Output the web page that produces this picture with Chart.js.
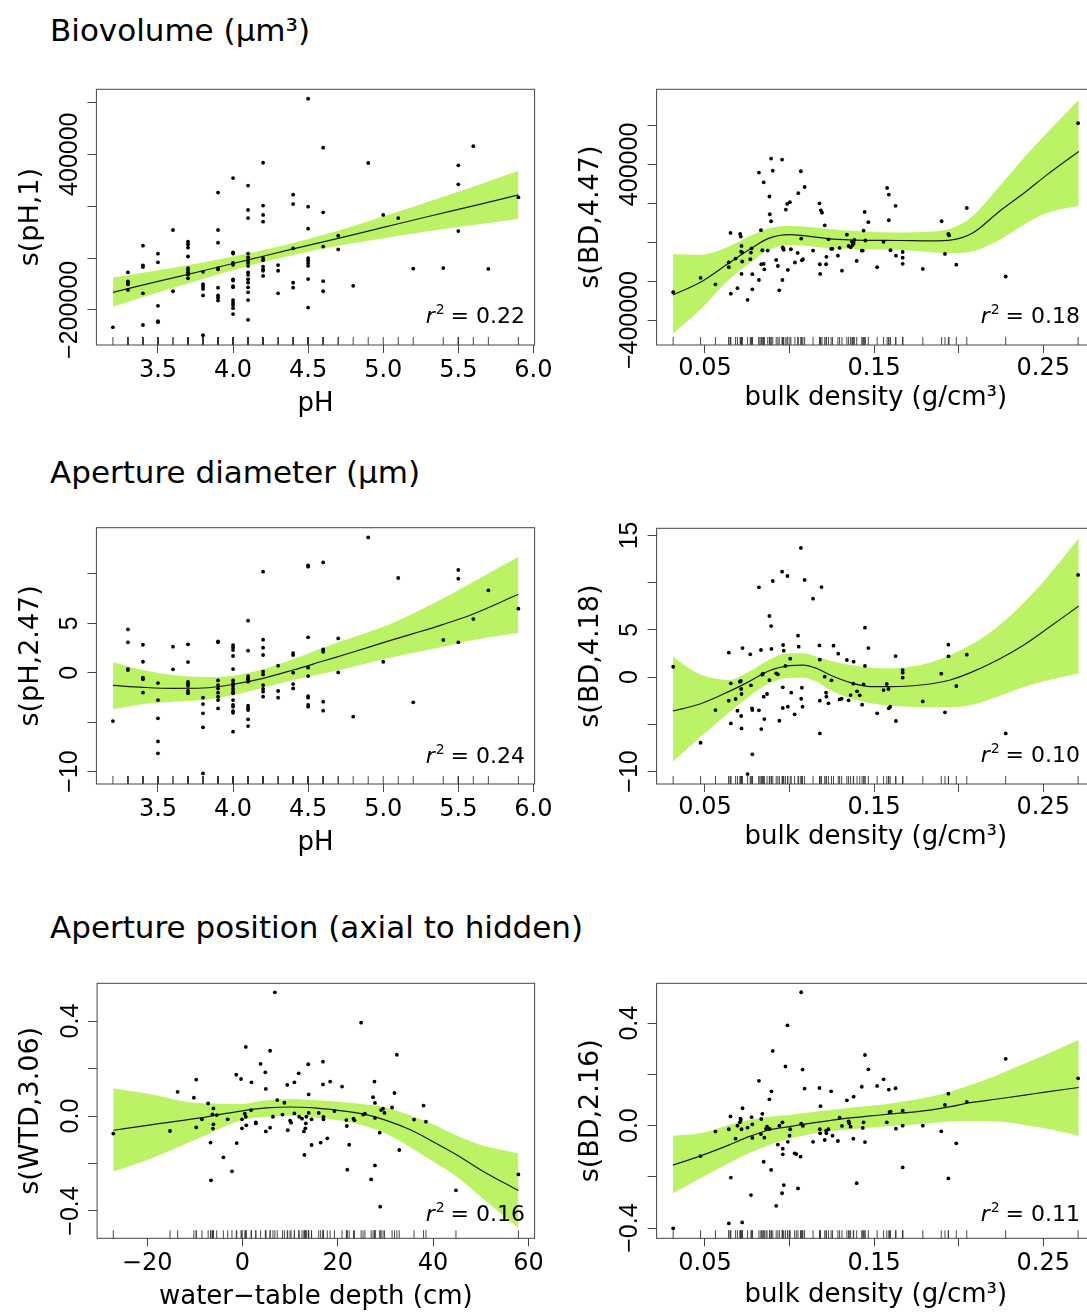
<!DOCTYPE html>
<html>
<head>
<meta charset="utf-8">
<script src="https://cdn.jsdelivr.net/npm/chart.js@4.4.1/dist/chart.umd.min.js"></script>
<style>
  html, body { margin: 0; padding: 0; background: #fff; }
  body { width: 1087px; height: 1314px; overflow: hidden; position: relative; }
  .section-title {
    position: absolute; left: 50px;
    font-family: 'DejaVu Sans', sans-serif; font-size: 31px; line-height: 31px;
    color: #000; white-space: nowrap;
  }
  canvas { position: absolute; }
</style>
</head>
<body>
<div class="section-title" style="top:15px">Biovolume (µm³)</div>
<div class="section-title" style="top:457px">Aperture diameter (µm)</div>
<div class="section-title" style="top:912px">Aperture position (axial to hidden)</div>

<script>
// ---------- axis ticks ----------
const phTicks = [3.5, 4.0, 4.5, 5.0, 5.5, 6.0];
const phTickLabels = ['3.5', '4.0', '4.5', '5.0', '5.5', '6.0'];
const bdTicks = [0.05, 0.10, 0.15, 0.20, 0.25];
const bdTickLabels = ['0.05', '', '0.15', '', '0.25'];
const wtdTicks = [-20, 0, 20, 40, 60];
const wtdTickLabels = ['\u221220', '0', '20', '40', '60'];

// ---------- Biovolume ~ pH ----------
const volPhX = [
  3.2,
  3.3, 3.3, 3.3, 3.3, 3.3,
  3.4, 3.4, 3.4, 3.4, 3.4,
  3.5, 3.5, 3.5, 3.5, 3.5,
  3.6, 3.6,
  3.7, 3.7, 3.7, 3.7, 3.7, 3.7, 3.7, 3.7, 3.7,
  3.8, 3.8, 3.8, 3.8, 3.8, 3.8,
  3.9, 3.9, 3.9, 3.9, 3.9, 3.9, 3.9, 3.9, 3.9,
  4.0, 4.0, 4.0, 4.0, 4.0, 4.0, 4.0, 4.0, 4.0, 4.0, 4.0, 4.0, 4.0, 4.0,
  4.1, 4.1, 4.1, 4.1, 4.1, 4.1, 4.1, 4.1, 4.1, 4.1, 4.1, 4.1, 4.1, 4.1, 4.1, 4.1,
  4.2, 4.2, 4.2, 4.2, 4.2, 4.2, 4.2, 4.2, 4.2, 4.2,
  4.3, 4.3, 4.3,
  4.4, 4.4, 4.4, 4.4, 4.4,
  4.5, 4.5, 4.5, 4.5, 4.5, 4.5, 4.5, 4.5, 4.5,
  4.6, 4.6, 4.6, 4.6, 4.6,
  4.7, 4.7,
  4.8, 4.9, 5.0, 5.1, 5.2, 5.4,
  5.5, 5.5, 5.5,
  5.6, 5.7, 5.9
];
const volPhY = [
  -267000,
  -55000, -90000, -96000, -101000, -123000,
  47500, -28000, -35000, -136000, -258000,
  16700, -16700, -184000, -243000, -247000,
  108000, -128000,
  63000, 53000, 40000, 6000, -38500, -46000, -55000, -64000, -78000,
  -53000, -101000, -110000, -119000, -144000, -297000,
  252000, 108000, 59000, -38500, -44000, -114000, -144000, -153000, -164000,
  308000, 22000, 17000, -19000, -26000, -82000, -87000, -108000, -113000, -162000, -172000, -181000, -193000, -216000,
  279000, 185000, 154000, 17000, 2600, -10000, -19000, -31000, -55000, -65000, -82000, -95000, -113000, -132000, -162000, -238000,
  367000, 202000, 166000, 140000, 0, -9000, -33000, -44000, -49000, -69000,
  -27000, -49000, -136000,
  244000, 208000, 37000, -95000, -114000,
  614000, 198000, 113000, 0, -9000, -19000, -30000, -81000, -191000,
  425000, 176000, 44000, -89000, -128000,
  86000, 33000,
  -107000, 366000, 166000, 154000, -41000, -38500,
  357000, 284000, 104000,
  431000, -42000, 234000
];
const volPhGrid = [3.2, 3.5, 3.8, 4.1, 4.4, 4.7, 5.0, 5.3, 5.6, 5.9];
const volPhFit = [-132000, -90000, -49000, -7000, 35000, 76000, 118000, 160000, 201000, 243000];
const volPhUpper = [-76000, -47000, -17000, 17000, 58000, 105000, 160000, 217000, 275000, 336000];
const volPhLower = [-188000, -133000, -81000, -31000, 12000, 47000, 76000, 103000, 127000, 150000];

// ---------- Biovolume ~ bulk density ----------
const volBdX = [
  0.0312, 0.0474, 0.0562, 0.0641, 0.0641, 0.0651, 0.0653, 0.0681, 0.0692, 0.0708,
  0.0712, 0.0714, 0.0716, 0.0716, 0.0720, 0.0720, 0.0752, 0.0768, 0.0772, 0.0776,
  0.0780, 0.0780, 0.0819, 0.0819, 0.0831, 0.0833, 0.0839, 0.0847, 0.0847, 0.0851,
  0.0871, 0.0881, 0.0883, 0.0891, 0.0891, 0.0901, 0.0921, 0.0931, 0.0939, 0.0956,
  0.0958, 0.0960, 0.0962, 0.0966, 0.0978, 0.0986, 0.0990, 0.1002, 0.1008, 0.1032,
  0.1048, 0.1052, 0.1067, 0.1069, 0.1073, 0.1079, 0.1089, 0.1139, 0.1177, 0.1179,
  0.1181, 0.1185, 0.1192, 0.1208, 0.1216, 0.1218, 0.1230, 0.1246, 0.1254, 0.1286,
  0.1296, 0.1310, 0.1339, 0.1349, 0.1361, 0.1369, 0.1373, 0.1379, 0.1383, 0.1397,
  0.1427, 0.1433, 0.1438, 0.1444, 0.1448, 0.1466, 0.1518, 0.1556, 0.1577, 0.1587,
  0.1587, 0.1597, 0.1627, 0.1629, 0.1669, 0.1669, 0.1669, 0.1788, 0.1899, 0.1919,
  0.1939, 0.1943, 0.1986, 0.2048, 0.2278, 0.2706
];
const volBdY = [
  -257000, -183000, -216000, -103000, -128000, 48000, -264000, -84000, -236000, 43000,
  29000, -48000, -19000, -163000, -99000, -53000, -296000, -87000, -53000, -31000,
  -164000, -242000, 358000, -194000, 62000, -113000, -41000, 308000, -111000, -139000,
  -43000, 235000, 144000, 430000, 108000, 368000, -91000, -122000, -247000, 425000,
  -194000, -26000, -33000, -39000, 168000, 197000, -142000, 206000, -36000, -104000,
  -55000, 252000, 365000, 19000, -93000, -87000, 284000, -43000, 200000, -113000,
  -163000, 164000, 152000, 87000, -113000, -75000, 15000, -34000, -34000, -69000,
  -29000, -146000, 39000, -19000, -26000, 3000, -14000, -5000, 12000, -96000,
  -43000, -43000, 60000, 156000, 9000, 103000, -128000, 2000, 279000, 245000,
  113000, -41000, 187000, -69000, -50000, -79000, -111000, -137000, 108000, -60000,
  43000, 36000, -115000, 176000, -176000, 612000
];
const volBdGrid = [0.031, 0.047, 0.064, 0.076, 0.088, 0.100, 0.108, 0.124, 0.144, 0.164, 0.184, 0.196, 0.208, 0.224, 0.240, 0.252, 0.271];
const volBdFit = [-271000, -207000, -108000, -39000, 21000, 39000, 34000, 17000, 10000, 9000, 7000, 12000, 46000, 158000, 262000, 345000, 466000];
const volBdUpper = [-62000, -65000, -22000, 29000, 72000, 84000, 81000, 67000, 55000, 50000, 55000, 72000, 132000, 286000, 449000, 560000, 731000];
const volBdLower = [-471000, -348000, -194000, -111000, -39000, -14000, -17000, -31000, -36000, -39000, -51000, -57000, -48000, 12000, 98000, 150000, 187000];

// ---------- Aperture diameter ~ pH ----------
const diamPhX = [
  3.2,
  3.3, 3.3, 3.3, 3.3,
  3.4, 3.4, 3.4, 3.4, 3.4,
  3.5, 3.5, 3.5, 3.5, 3.5,
  3.6, 3.6,
  3.7, 3.7, 3.7, 3.7, 3.7, 3.7, 3.7,
  3.8, 3.8, 3.8, 3.8, 3.8,
  3.9, 3.9, 3.9, 3.9, 3.9, 3.9, 3.9, 3.9, 3.9,
  4.0, 4.0, 4.0, 4.0, 4.0, 4.0, 4.0, 4.0, 4.0, 4.0, 4.0, 4.0, 4.0, 4.0, 4.0, 4.0, 4.0,
  4.1, 4.1, 4.1, 4.1, 4.1, 4.1, 4.1, 4.1, 4.1, 4.1, 4.1,
  4.2, 4.2, 4.2, 4.2, 4.2, 4.2, 4.2, 4.2, 4.2, 4.2,
  4.3, 4.3, 4.3,
  4.4, 4.4, 4.4, 4.4, 4.4,
  4.5, 4.5, 4.5, 4.5, 4.5, 4.5, 4.5, 4.5, 4.5,
  4.6, 4.6, 4.6, 4.6, 4.6,
  4.7, 4.7,
  4.8, 4.9, 5.0, 5.1, 5.2, 5.4,
  5.5, 5.5, 5.5,
  5.6, 5.7, 5.9
];
const diamPhY = [
  -4.89,
  4.38, 3.07, 0.37, 0.27,
  2.83, 1.11, -0.51, -0.67, -2.02,
  -1.05, -2.77, -4.62, -6.95, -8.16,
  2.63, 0.34,
  2.87, 1.08, -0.94, -1.11, -1.32, -1.85, -2.09,
  -2.53, -3.17, -4.11, -5.53, -10.19,
  3.17, 3.07, -0.78, -1.25, -1.59, -2.02, -2.43, -2.77, -3.61,
  2.80, 2.56, 2.29, 1.69, 0.37, -0.78, -1.08, -1.35, -1.65, -1.92, -2.09, -2.77, -3.27, -3.44, -3.88, -4.05, -5.97,
  5.26, 2.23, -0.34, -0.57, -0.74, -0.91, -3.34, -3.61, -3.78, -4.72, -5.40,
  10.22, 3.34, 2.53, 1.79, 0.10, -0.17, -1.25, -1.65, -1.92, -2.43,
  0.71, -1.85, -2.53,
  1.99, 1.79, 0.00, -1.15, -1.59,
  10.86, 10.73, 3.58, 0.51, -0.34, -2.36, -2.53, -3.27, -3.44,
  11.16, 2.36, 2.12, -2.93, -3.84,
  3.47, 0.03,
  -4.45, 13.69, 1.11, 9.58, -3.00, 3.31,
  10.39, 9.51, 3.07,
  5.43, 8.33, 6.48
];
const diamPhGrid = [3.2, 3.4, 3.6, 3.8, 4.0, 4.2, 4.4, 4.6, 4.8, 5.0, 5.2, 5.4, 5.6, 5.9];
const diamPhFit = [-1.28, -1.48, -1.59, -1.55, -1.18, -0.57, 0.27, 1.18, 2.09, 3.04, 3.95, 4.89, 5.94, 7.93];
const diamPhUpper = [1.05, 0.27, -0.24, -0.44, -0.30, 0.34, 1.35, 2.53, 3.58, 4.65, 6.00, 7.52, 9.21, 11.74];
const diamPhLower = [-3.71, -3.17, -2.93, -2.77, -2.26, -1.52, -0.74, -0.07, 0.61, 1.35, 2.02, 2.63, 3.31, 4.05];

// ---------- Aperture diameter ~ bulk density ----------
const diamBdX = [
  0.0312, 0.0474, 0.0562, 0.0641, 0.0641, 0.0653, 0.0653, 0.0681, 0.0692, 0.0706,
  0.0712, 0.0714, 0.0716, 0.0714, 0.0716, 0.0722, 0.0768, 0.0772, 0.0778, 0.0780,
  0.0780, 0.0752, 0.0819, 0.0819, 0.0831, 0.0833, 0.0839, 0.0843, 0.0847, 0.0851,
  0.0867, 0.0881, 0.0881, 0.0891, 0.0893, 0.0901, 0.0921, 0.0931, 0.0940, 0.0956,
  0.0960, 0.0960, 0.0962, 0.0966, 0.0976, 0.0988, 0.0990, 0.1004, 0.1010, 0.1030,
  0.1050, 0.1054, 0.1067, 0.1069, 0.1073, 0.1077, 0.1089, 0.1139, 0.1177, 0.1179,
  0.1179, 0.1179, 0.1189, 0.1208, 0.1216, 0.1218, 0.1230, 0.1248, 0.1260, 0.1288,
  0.1296, 0.1308, 0.1339, 0.1349, 0.1361, 0.1377, 0.1379, 0.1399, 0.1415, 0.1429,
  0.1438, 0.1446, 0.1446, 0.1466, 0.1518, 0.1556, 0.1575, 0.1585, 0.1587, 0.1595,
  0.1627, 0.1629, 0.1669, 0.1669, 0.1669, 0.1788, 0.1897, 0.1919, 0.1939, 0.1940,
  0.1986, 0.2048, 0.2278, 0.2706
];
const diamBdY = [
  1.09, -6.96, -3.50, 2.58, -2.51, -0.67, -4.91, -2.33, -3.57, -0.49,
  -0.42, -1.27, -1.80, -4.13, -5.44, 3.07, 2.40, -0.88, -3.32, -3.50,
  -8.19, -10.28, 9.50, -3.53, 2.86, -5.51, 0.25, 0.35, -2.08, -4.45,
  -1.80, -0.32, 6.46, 5.40, 2.97, 10.17, 0.39, 0.28, -4.63, 11.16,
  -1.09, -3.28, 3.39, 2.79, 1.17, 10.70, -3.14, 1.94, -1.66, -3.95,
  4.38, 3.21, 13.67, -2.30, -1.13, -3.14, 10.28, 8.30, 3.35, 1.84,
  -2.51, -5.97, 9.53, 0.04, -1.66, -2.08, -2.79, -0.35, 3.32, 2.47,
  -2.37, -2.30, 1.80, -2.47, -1.91, -0.71, 1.62, -1.52, -1.94, -2.93,
  -0.78, 5.23, 1.17, 3.07, -3.85, -1.38, -0.74, -1.27, -3.32, -3.14,
  2.22, -4.66, 0.74, 0.46, -0.07, -2.58, 0.35, -3.74, 3.43, 2.19,
  -0.95, 2.37, -5.97, 10.81
];
const diamBdGrid = [0.031, 0.047, 0.064, 0.076, 0.088, 0.100, 0.108, 0.116, 0.124, 0.136, 0.148, 0.160, 0.171, 0.183, 0.195, 0.207, 0.223, 0.239, 0.251, 0.271];
const diamBdFit = [-3.60, -2.86, -1.55, -0.49, 0.67, 1.20, 1.27, 0.92, 0.21, -0.60, -1.02, -1.02, -0.95, -0.74, -0.32, 0.46, 1.80, 3.45, 4.95, 7.52];
const diamBdUpper = [2.15, 0.28, -0.32, 0.56, 1.84, 2.51, 2.51, 2.15, 1.73, 1.27, 0.99, 0.92, 1.09, 1.52, 2.33, 3.39, 5.33, 7.98, 10.28, 14.69];
const diamBdLower = [-8.97, -6.39, -3.78, -2.08, -0.67, -0.07, -0.07, -0.49, -1.38, -2.26, -2.79, -3.04, -3.14, -3.21, -3.21, -2.97, -2.08, -1.02, -0.42, 0.39];

// ---------- Aperture position ~ water-table depth ----------
const posWtdX = [
  -27.1, -15.2, -13.6, -10.2, -9.7, -9.7, -8.5, -7.2, -6.7, -6.6,
  -6.3, -6.2, -6.1, -6.1, -5.4, -4.0, -3.1, -2.2, -1.3, -1.2,
  -0.3, -0.1, -0.1, 0.5, 0.7, 0.7, 0.8, 1.8, 1.9, 2.8,
  2.8, 3.8, 4.8, 4.9, 4.9, 5.8, 5.8, 6.4, 6.8, 7.3, 8.4,
  8.8, 9.4, 9.5, 10.0, 10.2, 10.9, 10.9, 11.8, 11.9, 12.5,
  12.9, 13.0, 13.2, 13.3, 13.4, 13.8, 13.9, 13.9, 14.5, 14.5,
  16.0, 16.4, 16.9, 16.9, 17.0, 17.0, 17.8, 18.4, 19.3, 20.9,
  21.8, 21.9, 22.0, 22.4, 23.3, 23.5, 24.9, 25.3, 25.7, 27.0,
  27.4, 27.7, 27.8, 27.8, 27.8, 28.8, 28.9, 29.1, 29.5, 29.8,
  31.4, 31.9, 32.4, 32.9, 36.0, 38.0, 38.5, 44.8, 57.9
];
const posWtdY = [
  -0.074, -0.063, 0.102, 0.077, -0.048, 0.153, -0.014, 0.053, -0.112, -0.271,
  0.007, -0.053, 0.032, -0.035, 0.004, -0.174, -0.014, -0.233, 0.174, -0.114,
  0.156, -0.014, -0.052, 0.010, 0.291, -0.003, -0.039, 0.025, 0.142, -0.027,
  -0.031, 0.220, 0.184, 0.114, -0.065, -0.049, 0.275, -0.003, 0.521, 0.067, 0.006,
  0.056, 0.131, -0.060, -0.020, -0.028, 0.142, 0.011, 0.180, -0.003, -0.011,
  -0.065, -0.164, -0.052, -0.031, -0.003, 0.218, 0.091, 0.013, -0.122, -0.014,
  0.013, -0.112, 0.229, 0.133, -0.004, -0.014, -0.094, 0.145, 0.021, 0.124,
  -0.017, -0.042, -0.226, -0.121, -0.011, -0.018, 0.393, 0.006, 0.010, -0.267,
  0.079, 0.145, 0.055, -0.008, -0.208, -0.070, -0.382, 0.025, 0.031, 0.013,
  0.036, 0.097, 0.258, -0.143, -0.015, 0.044, -0.024, -0.313, -0.246
];
const posWtdGrid = [-27.1, -20, -10, 0, 5, 10, 15, 20, 25, 30, 35, 40, 45, 50, 57.9];
const posWtdFit = [-0.060, -0.039, -0.011, 0.022, 0.034, 0.038, 0.034, 0.024, 0.010, -0.017, -0.056, -0.108, -0.164, -0.227, -0.314];
const posWtdUpper = [0.116, 0.095, 0.056, 0.051, 0.066, 0.072, 0.067, 0.060, 0.051, 0.036, 0.004, -0.035, -0.083, -0.122, -0.157];
const posWtdLower = [-0.234, -0.185, -0.101, -0.017, -0.003, 0.001, -0.006, -0.017, -0.038, -0.073, -0.129, -0.192, -0.256, -0.340, -0.473];

// ---------- Aperture position ~ bulk density ----------
const posBdX = [
  0.0312, 0.0474, 0.0562, 0.0641, 0.0641, 0.0651, 0.0653, 0.0681, 0.0692, 0.0706,
  0.0710, 0.0712, 0.0716, 0.0720, 0.0722, 0.0752, 0.0772, 0.0776, 0.0780, 0.0780,
  0.0819, 0.0831, 0.0833, 0.0839, 0.0847, 0.0851, 0.0861, 0.0867, 0.0881, 0.0883,
  0.0891, 0.0893, 0.0901, 0.0921, 0.0931, 0.0940, 0.0956, 0.0958, 0.0960, 0.0960,
  0.0966, 0.0976, 0.0988, 0.0990, 0.1000, 0.1004, 0.1030, 0.1040, 0.1050, 0.1065,
  0.1069, 0.1069, 0.1077, 0.1079, 0.1089, 0.1139, 0.1177, 0.1179, 0.1181, 0.1183, 0.1208,
  0.1216, 0.1218, 0.1230, 0.1246, 0.1254, 0.1286, 0.1296, 0.1310, 0.1339, 0.1349,
  0.1353, 0.1361, 0.1377, 0.1379, 0.1397, 0.1427, 0.1433, 0.1438, 0.1446, 0.1446,
  0.1466, 0.1518, 0.1556, 0.1575, 0.1587, 0.1591, 0.1597, 0.1627, 0.1629, 0.1669,
  0.1669, 0.1669, 0.1788, 0.1897, 0.1919, 0.1939, 0.1939, 0.1986, 0.2048, 0.2278, 0.2706
];
const posBdY = [
  -0.401, -0.119, -0.023, -0.014, -0.382, 0.036, -0.203, -0.051, 0.000, 0.013,
  0.027, 0.022, -0.014, -0.378, 0.068, -0.008, -0.271, 0.033, -0.048, 0.005,
  0.175, -0.033, 0.026, 0.046, -0.141, -0.047, -0.013, -0.004, 0.103, -0.013,
  -0.173, 0.134, 0.292, -0.313, -0.074, 0.000, -0.264, 0.013, -0.090, -0.112,
  -0.232, 0.231, 0.392, -0.063, -0.039, -0.014, -0.108, -0.111, -0.245, -0.121,
  0.008, 0.521, 0.219, -0.001, 0.145, -0.063, 0.147, -0.014, -0.030, 0.076, -0.056,
  -0.020, -0.030, -0.014, 0.134, -0.039, -0.060, 0.031, -0.001, 0.099, 0.017,
  0.009, -0.004, -0.051, 0.113, -0.225, 0.152, -0.009, 0.013, 0.276, -0.064,
  0.220, 0.155, 0.181, 0.013, 0.141, 0.053, 0.055, 0.146, -0.012, 0.059,
  0.000, -0.163, 0.000, -0.022, 0.081, 0.125, -0.206, -0.069, 0.093, 0.261, 0.185
];
const posBdGrid = [0.031, 0.047, 0.064, 0.076, 0.088, 0.100, 0.108, 0.116, 0.124, 0.136, 0.148, 0.160, 0.171, 0.183, 0.195, 0.207, 0.223, 0.239, 0.251, 0.271];
const posBdFit = [-0.154, -0.119, -0.076, -0.043, -0.017, -0.004, 0.005, 0.013, 0.020, 0.030, 0.038, 0.046, 0.052, 0.061, 0.074, 0.090, 0.104, 0.119, 0.131, 0.149];
const posBdUpper = [-0.040, -0.030, 0.003, 0.022, 0.035, 0.042, 0.048, 0.055, 0.061, 0.070, 0.078, 0.087, 0.098, 0.113, 0.132, 0.159, 0.198, 0.243, 0.276, 0.335];
const posBdLower = [-0.264, -0.206, -0.147, -0.108, -0.076, -0.050, -0.039, -0.030, -0.023, -0.014, -0.007, -0.001, 0.003, 0.009, 0.016, 0.018, 0.016, 0.003, -0.010, -0.039];

// ---------- styling ----------
const BAND = '#bcf265';
const AXIS = '#444';
const FONT = "'DejaVu Sans', sans-serif";

Chart.defaults.font.family = FONT;
Chart.defaults.color = '#000';

function pairs(xs, ys) {
  return xs.map((x, i) => ({ x: x, y: ys[i] }));
}

// rug, box, rotated y labels and r² note
function gamDecor(p) {
  return {
    id: 'gamDecor',
    afterDatasetsDraw(chart) {
      const { ctx, chartArea: a, scales: { x } } = chart;
      ctx.save();
      ctx.strokeStyle = '#333';
      ctx.lineWidth = 0.9;
      ctx.beginPath();
      p.rug.forEach(v => {
        const px = x.getPixelForValue(v);
        ctx.moveTo(px, a.bottom);
        ctx.lineTo(px, a.bottom - 8);
      });
      ctx.stroke();

      // r² label
      const base = a.bottom - p.r2Base;
      const right = a.right - p.r2Right;
      const rest = ' = ' + p.r2;
      ctx.fillStyle = '#000';
      ctx.textAlign = 'left';
      ctx.textBaseline = 'alphabetic';
      ctx.font = "22px " + FONT;
      const wRest = ctx.measureText(rest).width;
      ctx.font = "14px " + FONT;
      const wSup = ctx.measureText('2').width;
      ctx.font = "italic 22px " + FONT;
      const wR = ctx.measureText('r').width;
      let xx = right - wRest - wSup - wR;
      ctx.fillText('r', xx, base);
      xx += wR + 1;
      ctx.font = "14px " + FONT;
      ctx.fillText('2', xx, base - 9);
      xx += wSup - 1;
      ctx.font = "22px " + FONT;
      ctx.fillText(rest, xx, base);
      ctx.restore();
    },
    afterDraw(chart) {
      const { ctx, chartArea: a, scales: { y } } = chart;
      ctx.save();
      ctx.strokeStyle = AXIS;
      ctx.lineWidth = 1;
      ctx.strokeRect(a.left, a.top, a.right - a.left, a.bottom - a.top);

      ctx.fillStyle = '#000';
      ctx.font = "25px 'Liberation Sans', sans-serif";
      ctx.textAlign = 'center';
      ctx.textBaseline = 'middle';
      p.yLabelVals.forEach((v, i) => {
        const py = y.getPixelForValue(v);
        ctx.save();
        ctx.translate(a.left - 26, py);
        ctx.rotate(-Math.PI / 2);
        ctx.fillText(p.yLabelText[i], 0, 0);
        ctx.restore();
      });
      ctx.restore();
    }
  };
}

function makePanel(p) {
  const box = p.box;
  const cTop = Math.floor(box.t) - 30;
  const padTop = box.t - cTop;
  const cHeight = Math.ceil(padTop + (box.b - box.t) + 90);
  const xAxisH = cHeight - padTop - (box.b - box.t);
  const yAxisW = box.l - p.cLeft;

  const canvas = document.createElement('canvas');
  canvas.width = p.cWidth;
  canvas.height = cHeight;
  canvas.style.left = p.cLeft + 'px';
  canvas.style.top = cTop + 'px';
  document.body.appendChild(canvas);

  const curve = { showLine: true, pointRadius: 0, cubicInterpolationMode: 'monotone', borderWidth: 1 };

  new Chart(canvas, {
    type: 'scatter',
    data: {
      datasets: [
        { type: 'scatter', data: pairs(p.ptsX, p.ptsY), pointRadius: 1.9,
          pointBackgroundColor: '#000', pointBorderWidth: 0, order: 0 },
        Object.assign({ type: 'line', data: pairs(p.grid, p.fit), borderColor: '#1c1c1c',
          fill: false, order: 1 }, curve, { borderWidth: 1.2 }),
        Object.assign({ type: 'line', data: pairs(p.grid, p.lower), borderColor: 'rgba(0,0,0,0)',
          fill: false, order: 3 }, curve),
        Object.assign({ type: 'line', data: pairs(p.grid, p.upper), borderColor: 'rgba(0,0,0,0)',
          backgroundColor: BAND, fill: '-1', order: 2 }, curve)
      ]
    },
    options: {
      responsive: false,
      animation: false,
      devicePixelRatio: 1,
      events: [],
      layout: { padding: { left: 0, top: padTop, right: p.cLeft + p.cWidth - box.r, bottom: 0 } },
      plugins: { legend: { display: false }, tooltip: { enabled: false } },
      scales: {
        x: {
          type: 'linear', min: p.xMin, max: p.xMax,
          afterBuildTicks: s => { s.ticks = p.xTicks.map(v => ({ value: v })); },
          afterFit: s => { s.height = xAxisH; },
          ticks: {
            autoSkip: false, maxRotation: 0, minRotation: 0, padding: p.tickPad,
            font: { size: 24, family: FONT }, color: '#000',
            callback: (v, i) => p.xTickLabels[i]
          },
          grid: { drawOnChartArea: false, drawTicks: true, tickLength: 8, color: AXIS, lineWidth: 1 },
          border: { display: false },
          title: { display: true, text: p.xTitle, color: '#000',
                   font: { size: 26, family: FONT }, padding: { top: 0, bottom: p.xTitlePad } }
        },
        y: {
          type: 'linear', min: p.yMin, max: p.yMax,
          afterBuildTicks: s => { s.ticks = p.yTicks.map(v => ({ value: v })); },
          afterFit: s => { s.width = yAxisW; },
          ticks: { display: false },
          grid: { drawOnChartArea: false, drawTicks: true, tickLength: 9, color: AXIS, lineWidth: 1 },
          border: { display: false },
          title: { display: true, text: p.yTitle, color: '#000',
                   font: { size: 27, family: FONT }, padding: { top: p.yTitlePad, bottom: 0 } }
        }
      }
    },
    plugins: [gamDecor({
      rug: p.ptsX, yLabelVals: p.yLabelVals, yLabelText: p.yLabelText,
      r2: p.r2, r2Right: p.r2Right, r2Base: p.r2Base
    })]
  });
}

const M = '\u2212';

// Biovolume ~ pH
makePanel({
  cLeft: 0, cWidth: 580, box: { l: 96.4, r: 534.6, t: 89.3, b: 345 },
  xMin: 3.09, xMax: 6.008, yMin: -335000, yMax: 650000,
  xTicks: phTicks, xTickLabels: phTickLabels,
  yTicks: [-200000, 0, 200000, 400000, 600000],
  yLabelVals: [-200000, 400000], yLabelText: [M + '200000', '400000'],
  xTitle: 'pH', yTitle: 's(pH,1)', xTitlePad: 15.4, yTitlePad: 14.5, tickPad: 3.3,
  ptsX: volPhX, ptsY: volPhY, grid: volPhGrid, fit: volPhFit, upper: volPhUpper, lower: volPhLower,
  r2: '0.22', r2Right: 9.6, r2Base: 21.7
});

// Biovolume ~ bulk density
makePanel({
  cLeft: 560, cWidth: 560, box: { l: 656.6, r: 1095, t: 89.3, b: 345 },
  xMin: 0.0214, xMax: 0.2806, yMin: -528000, yMax: 786000,
  xTicks: bdTicks, xTickLabels: bdTickLabels,
  yTicks: [-400000, -200000, 0, 200000, 400000, 600000],
  yLabelVals: [-400000, 400000], yLabelText: [M + '400000', '400000'],
  xTitle: 'bulk density (g/cm\u00B3)', yTitle: 's(BD,4.47)', xTitlePad: 21.4, yTitlePad: 14.8, tickPad: 1,
  ptsX: volBdX, ptsY: volBdY, grid: volBdGrid, fit: volBdFit, upper: volBdUpper, lower: volBdLower,
  r2: '0.18', r2Right: 15, r2Base: 21.7
});

// Aperture diameter ~ pH
makePanel({
  cLeft: 0, cWidth: 580, box: { l: 96.4, r: 534.6, t: 527.7, b: 784 },
  xMin: 3.09, xMax: 6.008, yMin: -11.26, yMax: 14.67,
  xTicks: phTicks, xTickLabels: phTickLabels,
  yTicks: [-10, -5, 0, 5, 10],
  yLabelVals: [-10, 0, 5], yLabelText: [M + '10', '0', '5'],
  xTitle: 'pH', yTitle: 's(pH,2.47)', xTitlePad: 14.7, yTitlePad: 14.5, tickPad: 3.3,
  ptsX: diamPhX, ptsY: diamPhY, grid: diamPhGrid, fit: diamPhFit, upper: diamPhUpper, lower: diamPhLower,
  r2: '0.24', r2Right: 9.6, r2Base: 21.5
});

// Aperture diameter ~ bulk density
makePanel({
  cLeft: 560, cWidth: 560, box: { l: 656.6, r: 1095, t: 528.3, b: 784 },
  xMin: 0.0214, xMax: 0.2806, yMin: -11.33, yMax: 15.75,
  xTicks: bdTicks, xTickLabels: bdTickLabels,
  yTicks: [-10, -5, 0, 5, 10, 15],
  yLabelVals: [-10, 0, 5, 15], yLabelText: [M + '10', '0', '5', '15'],
  xTitle: 'bulk density (g/cm\u00B3)', yTitle: 's(BD,4.18)', xTitlePad: 20.7, yTitlePad: 14.8, tickPad: 1,
  ptsX: diamBdX, ptsY: diamBdY, grid: diamBdGrid, fit: diamBdFit, upper: diamBdUpper, lower: diamBdLower,
  r2: '0.10', r2Right: 15, r2Base: 22.5
});

// Aperture position ~ water-table depth
makePanel({
  cLeft: 0, cWidth: 580, box: { l: 97.1, r: 534.6, t: 983.3, b: 1238.3 },
  xMin: -30.5, xMax: 61.3, yMin: -0.515, yMax: 0.559,
  xTicks: wtdTicks, xTickLabels: wtdTickLabels,
  yTicks: [-0.4, -0.2, 0, 0.2, 0.4],
  yLabelVals: [-0.4, 0, 0.4], yLabelText: [M + '0.4', '0.0', '0.4'],
  xTitle: 'water\u2212table depth (cm)', yTitle: 's(WTD,3.06)', xTitlePad: 16.4, yTitlePad: 14.5, tickPad: 3,
  ptsX: posWtdX, ptsY: posWtdY, grid: posWtdGrid, fit: posWtdFit, upper: posWtdUpper, lower: posWtdLower,
  r2: '0.16', r2Right: 9.6, r2Base: 17.8
});

// Aperture position ~ bulk density
makePanel({
  cLeft: 560, cWidth: 560, box: { l: 656.6, r: 1095, t: 983.3, b: 1238.3 },
  xMin: 0.0214, xMax: 0.2806, yMin: -0.440, yMax: 0.556,
  xTicks: bdTicks, xTickLabels: bdTickLabels,
  yTicks: [-0.4, -0.2, 0, 0.2, 0.4],
  yLabelVals: [-0.4, 0, 0.4], yLabelText: [M + '0.4', '0.0', '0.4'],
  xTitle: 'bulk density (g/cm\u00B3)', yTitle: 's(BD,2.16)', xTitlePad: 18.4, yTitlePad: 14.8, tickPad: 3,
  ptsX: posBdX, ptsY: posBdY, grid: posBdGrid, fit: posBdFit, upper: posBdUpper, lower: posBdLower,
  r2: '0.11', r2Right: 15, r2Base: 17.8
});
</script>
</body>
</html>
